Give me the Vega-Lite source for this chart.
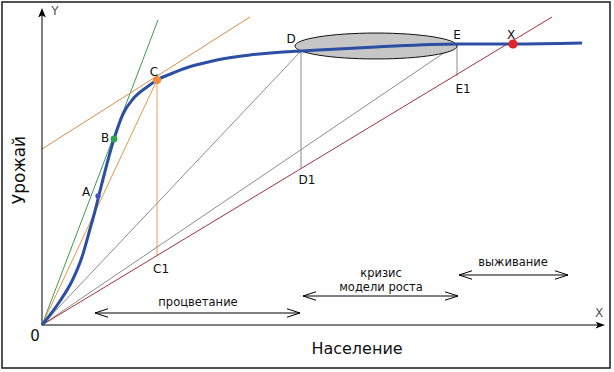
{
  "$schema": "https://vega.github.io/schema/vega-lite/v6.json",
  "width": 614,
  "height": 372,
  "autosize": {"type": "fit", "contains": "padding"},
  "padding": {"left": 2, "top": 2, "right": 4, "bottom": 4},
  "background": "white",
  "config": {"view": {"stroke": "#1a1a1a", "strokeWidth": 1.5}},
  "datasets": {
    "curve": [
      {"x": 0, "y": 0}, {"x": 8, "y": 10}, {"x": 18, "y": 24}, {"x": 30, "y": 44},
      {"x": 40, "y": 68}, {"x": 48, "y": 96}, {"x": 53, "y": 114}, {"x": 57, "y": 130},
      {"x": 72, "y": 186}, {"x": 81, "y": 211}, {"x": 91, "y": 226}, {"x": 105, "y": 238},
      {"x": 115, "y": 245}, {"x": 131, "y": 252}, {"x": 141, "y": 256}, {"x": 158, "y": 261},
      {"x": 175, "y": 265}, {"x": 208, "y": 270}, {"x": 241, "y": 273}, {"x": 259, "y": 274},
      {"x": 334, "y": 278}, {"x": 415, "y": 281}, {"x": 471, "y": 281}, {"x": 540, "y": 282}
    ],
    "segments": [
      {"kind": "tangentB", "x": 0, "y": 0, "x2": 116, "y2": 305},
      {"kind": "rayC", "x": 0, "y": 0, "x2": 115, "y2": 245},
      {"kind": "tangentC", "x": 0, "y": 176, "x2": 208, "y2": 308},
      {"kind": "dropC", "x": 115, "y": 245, "x2": 115, "y2": 69},
      {"kind": "rayD", "x": 0, "y": 0, "x2": 259, "y2": 274},
      {"kind": "rayE", "x": 0, "y": 0, "x2": 415, "y2": 281},
      {"kind": "dropD", "x": 259, "y": 274, "x2": 259, "y2": 156},
      {"kind": "dropE", "x": 415, "y": 281, "x2": 415, "y2": 249},
      {"kind": "limit", "x": 0, "y": 0, "x2": 510, "y2": 308},
      {"kind": "axisY", "x": 0, "y": 0, "x2": 0, "y2": 310},
      {"kind": "axisX", "x": 0, "y": 0, "x2": 557, "y2": 0},
      {"kind": "range", "x": 53, "y": 12, "x2": 258, "y2": 12},
      {"kind": "range", "x": 261, "y": 29, "x2": 416, "y2": 29},
      {"kind": "range", "x": 417, "y": 50, "x2": 526, "y2": 50}
    ],
    "heads": [
      {"x": 53, "y": 12, "dir": "left"}, {"x": 258, "y": 12, "dir": "right"},
      {"x": 261, "y": 29, "dir": "left"}, {"x": 416, "y": 29, "dir": "right"},
      {"x": 417, "y": 50, "dir": "left"}, {"x": 526, "y": 50, "dir": "right"}
    ],
    "axisHeads": [
      {"x": 0, "y": 317, "dir": "up"}, {"x": 563, "y": 0, "dir": "right"}
    ],
    "zone": [{"x": 334, "y": 279}],
    "points": [
      {"name": "A", "x": 56, "y": 129}, {"name": "B", "x": 72, "y": 186},
      {"name": "C", "x": 115, "y": 245}, {"name": "X", "x": 471, "y": 281}
    ],
    "texts": [
      {"group": "pt", "text": "A", "x": 44, "y": 133},
      {"group": "pt", "text": "B", "x": 63, "y": 187},
      {"group": "pt", "text": "C", "x": 112, "y": 253},
      {"group": "pt", "text": "D", "x": 249, "y": 286},
      {"group": "pt", "text": "E", "x": 415, "y": 290},
      {"group": "pt", "text": "X", "x": 469, "y": 290},
      {"group": "pt", "text": "C1", "x": 119, "y": 56},
      {"group": "pt", "text": "D1", "x": 265, "y": 145},
      {"group": "pt", "text": "E1", "x": 421, "y": 236},
      {"group": "reg", "text": "процветание", "x": 156, "y": 22},
      {"group": "reg", "text": "кризис", "x": 339, "y": 51},
      {"group": "reg", "text": "модели роста", "x": 339, "y": 37},
      {"group": "reg", "text": "выживание", "x": 471, "y": 62},
      {"group": "title", "text": "Население", "x": 315, "y": -24},
      {"group": "ytitle", "text": "Урожай", "x": -22, "y": 155},
      {"group": "zero", "text": "0", "x": -7, "y": -11},
      {"group": "axis", "text": "Y", "x": 13, "y": 314},
      {"group": "axis", "text": "X", "x": 557, "y": 12}
    ]
  },
  "encoding": {
    "x": {"field": "x", "type": "quantitative", "scale": {"domain": [-40, 568], "nice": false, "zero": false}, "axis": null},
    "y": {"field": "y", "type": "quantitative", "scale": {"domain": [-43, 323], "nice": false, "zero": false}, "axis": null}
  },
  "layer": [
    {
      "data": {"name": "segments"},
      "mark": {"type": "rule"},
      "encoding": {
        "x2": {"field": "x2"},
        "y2": {"field": "y2"},
        "color": {"field": "kind", "type": "nominal", "legend": null,
          "scale": {"domain": ["tangentB", "rayC", "tangentC", "dropC", "rayD", "rayE", "dropD", "dropE", "limit", "axisY", "axisX", "range"],
                    "range": ["#3c9a50", "#e8954a", "#d98c45", "#eea057", "#8c8c8c", "#8c8c8c", "#8c8c8c", "#8c8c8c", "#a3303f", "#000000", "#000000", "#000000"]}},
        "strokeWidth": {"field": "kind", "type": "nominal", "legend": null,
          "scale": {"domain": ["tangentB", "rayC", "tangentC", "dropC", "rayD", "rayE", "dropD", "dropE", "limit", "axisY", "axisX", "range"],
                    "range": [1, 1, 1, 1.6, 1, 1, 1, 1, 1, 1.5, 1.5, 1]}}
      }
    },
    {
      "data": {"name": "zone"},
      "mark": {"type": "point", "filled": true, "opacity": 1, "fill": "#c6c6c6", "stroke": "#111111", "strokeWidth": 1, "size": 26244,
        "shape": "M -1 0 C -1 -0.088 -0.552 -0.16 0 -0.16 C 0.552 -0.16 1 -0.088 1 0 C 1 0.088 0.552 0.16 0 0.16 C -0.552 0.16 -1 0.088 -1 0 Z"}
    },
    {
      "data": {"name": "curve"},
      "mark": {"type": "line", "interpolate": "monotone", "color": "#2c4ea3", "strokeWidth": 3}
    },
    {
      "data": {"name": "points"},
      "mark": {"type": "point", "filled": true, "opacity": 1, "shape": "circle"},
      "encoding": {
        "color": {"field": "name", "type": "nominal", "legend": null,
          "scale": {"domain": ["A", "B", "C", "X"], "range": ["#3f51c4", "#2da44e", "#f28c3c", "#e0242a"]}},
        "size": {"field": "name", "type": "nominal", "legend": null,
          "scale": {"domain": ["A", "B", "C", "X"], "range": [28, 85, 85, 60]}}
      }
    },
    {
      "data": {"name": "heads"},
      "mark": {"type": "point", "filled": false, "opacity": 1, "stroke": "#000000", "strokeWidth": 1, "size": 169},
      "encoding": {
        "shape": {"field": "dir", "type": "nominal", "legend": null,
          "scale": {"domain": ["left", "right"], "range": ["M 2 -0.65 L 0 0 L 2 0.65", "M -2 -0.65 L 0 0 L -2 0.65"]}}
      }
    },
    {
      "data": {"name": "axisHeads"},
      "mark": {"type": "point", "filled": true, "opacity": 1, "fill": "#000000", "strokeWidth": 0, "size": 81},
      "encoding": {
        "shape": {"field": "dir", "type": "nominal", "legend": null,
          "scale": {"domain": ["up", "right"], "range": ["M 0 0 L -0.85 2.1 L 0 1.6 L 0.85 2.1 Z", "M 0 0 L -2.1 -0.75 L -1.6 0 L -2.1 0.75 Z"]}}
      }
    },
    {
      "data": {"name": "texts"},
      "transform": [{"filter": "datum.group === 'pt'"}],
      "mark": {"type": "text", "font": "DejaVu Sans", "fontSize": 12, "color": "#111111", "align": "center", "baseline": "middle"},
      "encoding": {"text": {"field": "text"}}
    },
    {
      "data": {"name": "texts"},
      "transform": [{"filter": "datum.group === 'reg'"}],
      "mark": {"type": "text", "font": "DejaVu Sans", "fontSize": 11.5, "color": "#111111", "align": "center", "baseline": "middle"},
      "encoding": {"text": {"field": "text"}}
    },
    {
      "data": {"name": "texts"},
      "transform": [{"filter": "datum.group === 'title'"}],
      "mark": {"type": "text", "font": "DejaVu Sans", "fontSize": 16, "color": "#111111", "align": "center", "baseline": "middle"},
      "encoding": {"text": {"field": "text"}}
    },
    {
      "data": {"name": "texts"},
      "transform": [{"filter": "datum.group === 'ytitle'"}],
      "mark": {"type": "text", "font": "DejaVu Sans", "fontSize": 17, "color": "#111111", "align": "center", "baseline": "middle", "angle": 270},
      "encoding": {"text": {"field": "text"}}
    },
    {
      "data": {"name": "texts"},
      "transform": [{"filter": "datum.group === 'zero'"}],
      "mark": {"type": "text", "font": "DejaVu Sans", "fontSize": 15, "color": "#111111", "align": "center", "baseline": "middle"},
      "encoding": {"text": {"field": "text"}}
    },
    {
      "data": {"name": "texts"},
      "transform": [{"filter": "datum.group === 'axis'"}],
      "mark": {"type": "text", "font": "DejaVu Sans", "fontSize": 12, "color": "#555555", "align": "center", "baseline": "middle"},
      "encoding": {"text": {"field": "text"}}
    }
  ],
  "resolve": {"scale": {"color": "independent", "size": "independent", "shape": "independent", "strokeWidth": "independent"}}
}
